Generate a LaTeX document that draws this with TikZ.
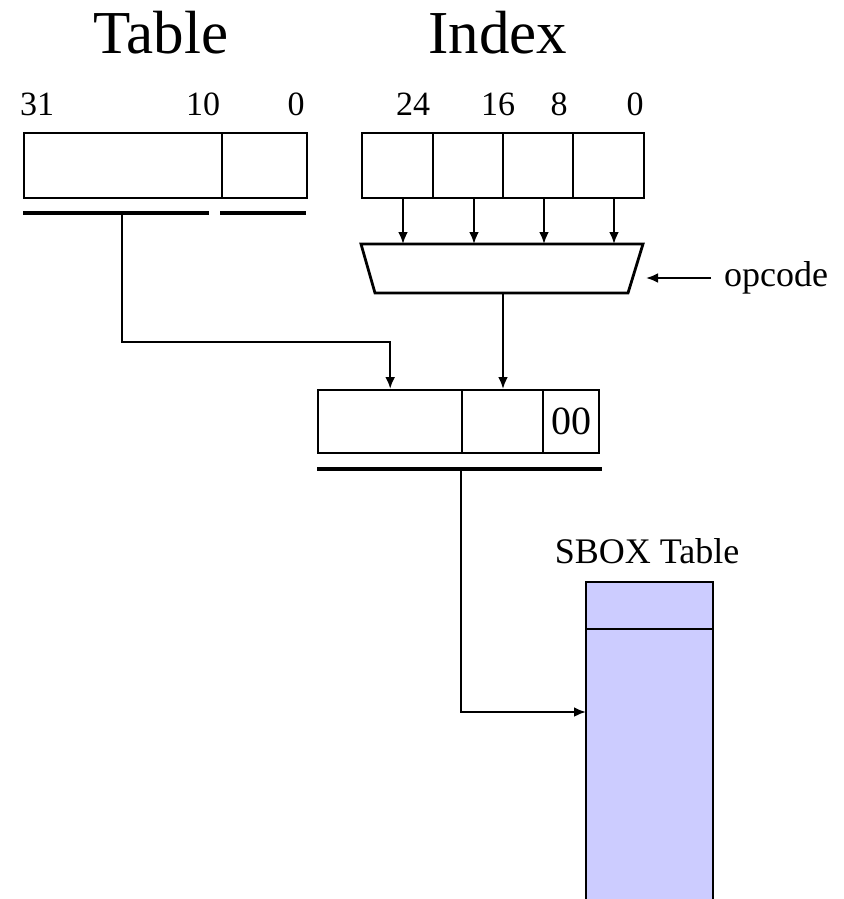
\documentclass[tikz,border=0pt]{standalone}
\usepackage{fontspec}
\setmainfont{Liberation Serif}
\usetikzlibrary{arrows.meta}
\begin{document}
\begin{tikzpicture}[x=1pt,y=-1pt,
  cell/.style={draw,line width=2.4pt,inner sep=0pt,anchor=north west},
  bar/.style={line width=3.4pt},
  conn/.style={line width=2.4pt,-{Latex[length=12pt,width=10pt]}},
  bitlbl/.style={font=\fontsize{34}{34}\selectfont,anchor=base},
  title/.style={font=\fontsize{61}{61}\selectfont,anchor=base}]
\useasboundingbox (0,0) rectangle (843,899);
% titles
\node[title] (tT) at (161,53) {Table};
\node[title] (tI) at (498,53) {Index};
% bit labels
\node[bitlbl] (l31) at (37,115) {31};
\node[bitlbl] (l10) at (203,115) {10};
\node[bitlbl] (l0a) at (296,115) {0};
\node[bitlbl] (l24) at (413,115) {24};
\node[bitlbl] (l16) at (498,115) {16};
\node[bitlbl] (l8) at (559,115) {8};
\node[bitlbl] (l0b) at (635,115) {0};
% table register
\node[cell,minimum width=198pt,minimum height=65pt] (tA) at (23,132) {};
\node[cell,minimum width=85pt,minimum height=65pt] (tB) at (221,132) {};
\coordinate (tu1) at (23,213); \coordinate (tu2) at (209,213);
\coordinate (tu3) at (220,213); \coordinate (tu4) at (306,213);
\draw[bar] (tu1) -- (tu2);
\draw[bar] (tu3) -- (tu4);
% index register
\node[cell,minimum width=71pt,minimum height=65pt] (i1) at (361,132) {};
\node[cell,minimum width=70pt,minimum height=65pt] (i2) at (432,132) {};
\node[cell,minimum width=70pt,minimum height=65pt] (i3) at (502,132) {};
\node[cell,minimum width=71pt,minimum height=65pt] (i4) at (572,132) {};
% mux
\coordinate (mx1) at (361,244); \coordinate (mx2) at (643,244);
\coordinate (mx3) at (628,293); \coordinate (mx4) at (375,293);
\draw[line width=2.8pt,line join=miter] (mx1) -- (mx2) -- (mx3) -- (mx4) -- cycle;
\node[inner sep=0pt,minimum width=282pt,minimum height=49pt,anchor=north west] (mux) at (361,244) {};
\foreach \c/\x in {i1/403,i2/474,i3/544,i4/614}{
  \coordinate (\c s) at (\x,197);
  \coordinate (\c m) at (\x,244);
  \draw[conn] (\c s) -- (\c m);
}
% opcode
\node[font=\fontsize{36}{36}\selectfont,anchor=west,inner sep=0pt] (op) at (724,278) {opcode};
\coordinate (opin) at (646,278);
\draw[conn] (op.west) ++(-13,0) coordinate (opst) -- (opin);
% middle register
\node[cell,minimum width=144pt,minimum height=63pt] (m1) at (317,389) {};
\node[cell,minimum width=81pt,minimum height=63pt] (m2) at (461,389) {};
\node[cell,minimum width=56pt,minimum height=63pt,font=\fontsize{40}{40}\selectfont] (m3) at (542,389) {00};
\coordinate (mu1) at (317,469); \coordinate (mu2) at (602,469);
\draw[bar] (mu1) -- (mu2);
% table -> middle
\coordinate (tdrop) at (122,213);
\coordinate (tbend) at (122,342);
\draw[conn] (tdrop) -- (tbend) -| (m1.north);
% mux -> middle
\coordinate (muxout) at (503,293);
\draw[conn] (muxout) -- (muxout |- m2.north);
% sbox
\node[anchor=base,font=\fontsize{36}{36}\selectfont] (sl) at (647,563) {SBOX Table};
\fill[fill={rgb,255:red,204;green,204;blue,255}] (586,582) rectangle (713,900);
\node[inner sep=0pt,minimum width=127pt,minimum height=318pt,anchor=north west] (sbox) at (586,582) {};
\draw[line width=2.8pt] (586,900) -- (586,582) -- (713,582) -- (713,900);
\draw[line width=2.8pt] (586,629) -- (713,629);
% middle -> sbox
\coordinate (mdrop) at (461,469);
\coordinate (sin) at (586,712);
\draw[conn] (mdrop) |- (sin);
\end{tikzpicture}
\end{document}
